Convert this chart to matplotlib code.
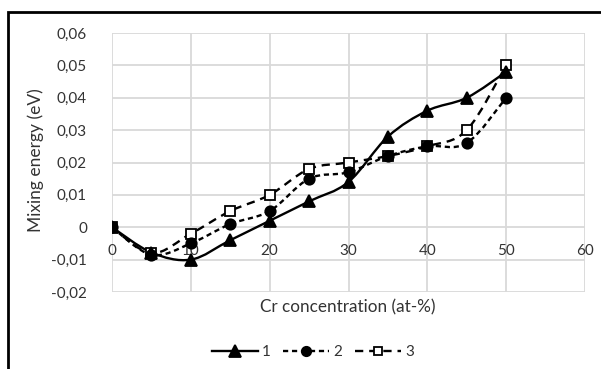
import numpy as np
import matplotlib
matplotlib.use("Agg")
import matplotlib.pyplot as plt
from matplotlib.path import Path
from matplotlib.patches import PathPatch, Rectangle
from matplotlib.lines import Line2D

plt.rcParams['font.family'] = ['Lato', 'DejaVu Sans']

# Data
cr = [0, 5, 10, 15, 20, 25, 30, 35, 40, 45, 50]
series1 = [0, -0.0078, -0.010, -0.004, 0.002, 0.008, 0.014, 0.028, 0.036, 0.040, 0.048]
series2 = [0, -0.0085, -0.005, 0.001, 0.005, 0.015, 0.017, 0.022, 0.025, 0.026, 0.040]
series3 = [0, -0.008, -0.002, 0.005, 0.010, 0.018, 0.020, 0.022, 0.025, 0.030, 0.050]
labels = ['1', '2', '3']
yticks = [-0.02, -0.01, 0, 0.01, 0.02, 0.03, 0.04, 0.05, 0.06]
xticks = [0, 10, 20, 30, 40, 50, 60]

def smooth_path(x, y):
    pts = np.column_stack([x, y]).astype(float)
    n = len(pts)
    verts = [pts[0]]
    codes = [Path.MOVETO]
    for i in range(n - 1):
        p0 = pts[i - 1] if i > 0 else pts[i]
        p1 = pts[i]
        p2 = pts[i + 1]
        p3 = pts[i + 2] if i + 2 < n else pts[i + 1]
        c1 = p1 + (p2 - p0) / 6.0
        c2 = p2 - (p3 - p1) / 6.0
        verts += [c1, c2, p2]
        codes += [Path.CURVE4] * 3
    return Path(verts, codes)

W, H = 601, 369
TXT = '#333333'
FS = 11
fig = plt.figure(figsize=(W / 100, H / 100), dpi=100)
ax = fig.add_axes([112 / W, 1 - 292 / H, (585 - 112) / W, (292 - 33) / H])

ax.set_xlim(0, 60)
ax.set_ylim(-0.02, 0.06)
ax.set_xticks(xticks)
ax.set_yticks(yticks)
ax.set_yticklabels([('%g' % v).replace('.', ',') if v != 0 else '0' for v in yticks])
ax.set_xticklabels([str(v) for v in xticks])
ax.grid(True, color='#d9d9d9', linewidth=1.3)
ax.set_axisbelow(True)
for s in ax.spines.values():
    s.set_visible(False)
ax.spines['bottom'].set_position(('data', 0))
ax.tick_params(axis='both', length=0, labelsize=FS, colors=TXT)
ax.tick_params(axis='x', pad=12)
ax.tick_params(axis='y', pad=18)

styles = [
    dict(marker='^', ms=9, mfc='black', dashes=None, z=6),
    dict(marker='o', ms=7.5, mfc='black', dashes=(2.2, 1.6), z=5),
    dict(marker='s', ms=6.5, mfc='white', dashes=(3.5, 2.5), z=4),
]
handles = []
for ys, st, lab in zip([series1, series2, series3], styles, labels):
    path = smooth_path(cr, ys)
    patch = PathPatch(path, fill=False, edgecolor='black', linewidth=1.7, zorder=3)
    if st['dashes'] is not None:
        patch.set_linestyle((0, st['dashes']))
    ax.add_patch(patch)
    ax.plot(cr, ys, linestyle='none', marker=st['marker'], ms=st['ms'],
            mfc=st['mfc'], mec='black', mew=1.3, zorder=st['z'])
    h = Line2D([], [], color='black', linewidth=1.7, marker=st['marker'], ms=st['ms'] * 0.9,
               mfc=st['mfc'], mec='black', mew=1.3)
    if st['dashes'] is not None:
        h.set_dashes(st['dashes'])
    handles.append(h)

fig.text(36 / W, 1 - 160 / H, 'Mixing energy (eV)', rotation=90, ha='center', va='center',
         fontsize=12.5, color=TXT)
fig.text(348 / W, 1 - 307 / H, 'Cr concentration (at-%)', ha='center', va='center',
         fontsize=12.3, color=TXT)

fig.legend(handles, labels, loc='center', bbox_to_anchor=(313 / W, 1 - 352 / H), ncol=3,
           frameon=False, fontsize=FS, handlelength=3.0, columnspacing=0.8, handletextpad=0.3,
           labelcolor=TXT)

fig.patches.append(Rectangle((8 / W, -0.1), (W - 8) / W + 0.1, 1.1 - 12 / H,
                             transform=fig.transFigure, fill=False, edgecolor='black',
                             linewidth=2, figure=fig))

fig.savefig('out.png', dpi=100)
